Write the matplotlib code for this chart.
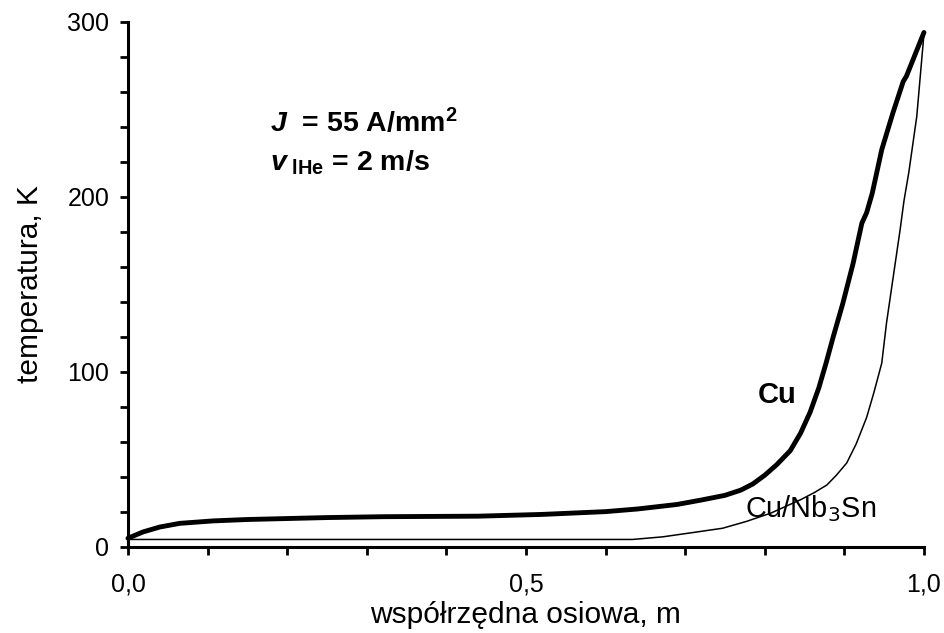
import matplotlib
matplotlib.use("Agg")
import matplotlib.pyplot as plt
from matplotlib.ticker import FixedLocator, FixedFormatter, MultipleLocator

plt.rcParams["font.family"] = ["Liberation Sans", "DejaVu Sans"]
plt.rcParams["mathtext.fontset"] = "custom"
plt.rcParams["mathtext.rm"] = "Liberation Sans:bold"
plt.rcParams["mathtext.it"] = "Liberation Sans:bold:italic"
plt.rcParams["mathtext.bf"] = "Liberation Sans:bold"

# Temperature along the conductor axis
cu_x = [0.0, 0.019, 0.04, 0.065, 0.107, 0.15, 0.25, 0.32, 0.44, 0.52, 0.6, 0.64,
        0.69, 0.72, 0.75, 0.77, 0.785, 0.80, 0.815, 0.832, 0.845, 0.857, 0.868,
        0.877, 0.886, 0.898, 0.911, 0.922, 0.928, 0.935, 0.947, 0.961, 0.974,
        0.978, 1.0]
cu_t = [5.0, 8.6, 11.4, 13.5, 14.9, 15.7, 16.8, 17.3, 17.6, 18.6, 20.2, 21.7,
        24.3, 26.8, 29.5, 32.5, 36.0, 41.0, 47.0, 55.0, 65.0, 77.0, 91.0,
        105.0, 120.0, 139.0, 162.0, 185.0, 191.0, 202.0, 227.0, 248.0, 266.0,
        269.0, 294.0]

nb_x = [0.0, 0.634, 0.672, 0.709, 0.747, 0.777, 0.808, 0.823, 0.845, 0.862, 0.878,
        0.89, 0.903, 0.915, 0.928, 0.937, 0.947, 0.953, 0.961, 0.97, 0.975, 0.981,
        0.991, 1.0]
nb_t = [4.3, 4.3, 5.8, 8.2, 10.7, 14.6, 19.4, 22.5, 27.0, 31.0, 35.4,
        41.0, 48.0, 59.0, 74.0, 88.0, 105.0, 128.0, 153.0, 181.0, 198.0, 214.0,
        246.0, 293.0]

x_ticks = [0.0, 0.5, 1.0]
x_labels = ["0,0", "0,5", "1,0"]
y_ticks = [0, 100, 200, 300]
y_labels = ["0", "100", "200", "300"]

fig = plt.figure(figsize=(9.45, 6.33), dpi=100)
ax = fig.add_axes([0.1354, 0.1359, 0.8423, 0.8294])

ax.plot(nb_x, nb_t, color="black", lw=1.1, clip_on=False, zorder=3)
ax.plot(cu_x, cu_t, color="black", lw=3.5, clip_on=False, zorder=4,
        solid_capstyle="round", solid_joinstyle="round")

ax.set_xlim(0, 1.0)
ax.set_ylim(0, 300)

for side in ("top", "right"):
    ax.spines[side].set_visible(False)
for side in ("left", "bottom"):
    ax.spines[side].set_linewidth(2.2)

ax.xaxis.set_major_locator(FixedLocator(x_ticks))
ax.xaxis.set_major_formatter(FixedFormatter(x_labels))
ax.xaxis.set_minor_locator(MultipleLocator(0.1))
ax.yaxis.set_major_locator(FixedLocator(y_ticks))
ax.yaxis.set_major_formatter(FixedFormatter(y_labels))
ax.yaxis.set_minor_locator(MultipleLocator(20))

ax.tick_params(axis="both", which="both", direction="out", width=2.0, length=5.5,
               labelsize=18, color="black")
ax.tick_params(axis="x", which="major", pad=13)
ax.tick_params(axis="y", which="major", pad=8)

ax.set_xlabel("współrzędna osiowa, m", fontsize=21.5, labelpad=3)
ax.set_ylabel("temperatura, K", fontsize=21.5, labelpad=17)

ax.text(0.178, 237, r"$J$  = 55 A/mm$^{2}$", fontsize=20.5, fontweight="bold")
ax.text(0.178, 215, r"$v_{\ \mathrm{lHe}}$ = 2 m/s", fontsize=20.5,
        fontweight="bold")
ax.text(0.791, 82, "Cu", fontsize=21, fontweight="bold")
ax.text(0.775, 17, r"Cu/Nb$_3$Sn", fontsize=20.8,
        math_fontfamily="dejavusans")

fig.savefig("out.png", dpi=100)
